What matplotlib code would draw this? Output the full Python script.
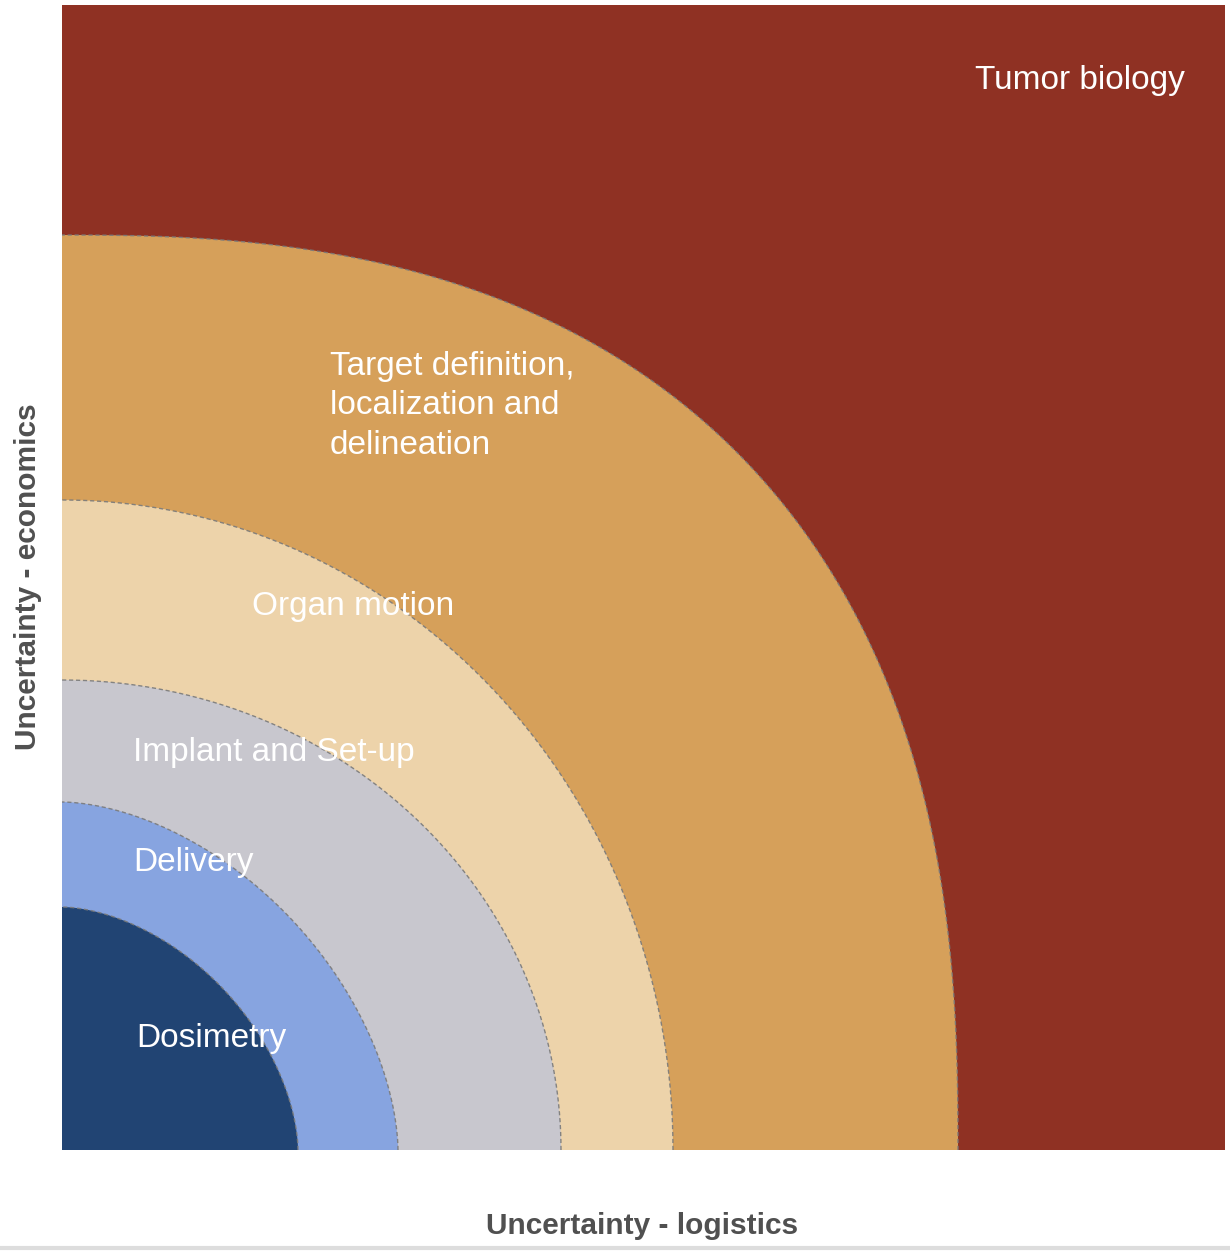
import numpy as np
import matplotlib
matplotlib.use("Agg")
import matplotlib.pyplot as plt
from matplotlib.lines import Line2D

plt.rcParams['font.family'] = ['Liberation Sans', 'DejaVu Sans']

# ---- data (layers from outermost to innermost) ----
layers = ["Tumor biology", "Target definition,\nlocalization and\ndelineation",
          "Organ motion", "Implant and Set-up", "Delivery", "Dosimetry"]
# extent along logistics axis (x) and economics axis (y); Tumor biology fills the whole panel
x_extent = [1163, 896, 611, 499, 336, 236]
y_extent = [1145, 915, 650, 470, 348, 243]
shape_exp = [None, 2.5, 2.0, 2.0, 1.75, 1.75]
colors = ["#8F3123", "#D6A05A", "#EDD3AA", "#C8C7CE", "#87A4E0", "#214473"]
label_pos = [(913, 1070), (268, 744), (190, 543), (71, 397), (71, 287), (74, 112)]

W, H = 1230, 1253
fig = plt.figure(figsize=(W / 100, H / 100), dpi=100)
ax = fig.add_axes([62 / W, (H - 1150) / H, (1225 - 62) / W, (1150 - 5) / H])
ax.set_xlim(0, x_extent[0])
ax.set_ylim(0, y_extent[0])
ax.set_facecolor(colors[0])
for s in ax.spines.values():
    s.set_visible(False)
ax.set_xticks([])
ax.set_yticks([])

t = np.linspace(0, np.pi / 2, 400)
for a, b, n, c in zip(x_extent[1:], y_extent[1:], shape_exp[1:], colors[1:]):
    xs = a * np.cos(t) ** (2 / n)
    ys = b * np.sin(t) ** (2 / n)
    px = np.concatenate([[0], xs, [0]])
    py = np.concatenate([[0], ys, [0]])
    ax.fill(px, py, color=c, lw=0, zorder=2)
    ax.plot(xs, ys, color="#7a7a7a", lw=1.0, ls=(0, (3, 2)), alpha=0.9, zorder=3)

for name, (lx, ly) in zip(layers, label_pos):
    ax.text(lx, ly, name, color="white", fontsize=24, ha="left", va="center",
            linespacing=1.36, zorder=5)

fig.text(642 / W, 1 - 1226 / H, "Uncertainty - logistics", ha="center", va="center",
         fontsize=21.5, fontweight="bold", color="#505050")
fig.text(28 / W, 1 - 577 / H, "Uncertainty - economics", ha="center", va="center",
         rotation=90, fontsize=21.5, fontweight="bold", color="#505050")

fig.add_artist(Line2D([0, 1], [1 - 1248 / H, 1 - 1248 / H], transform=fig.transFigure,
                      color="#dddddd", lw=3))

fig.savefig("out.png", dpi=100)
